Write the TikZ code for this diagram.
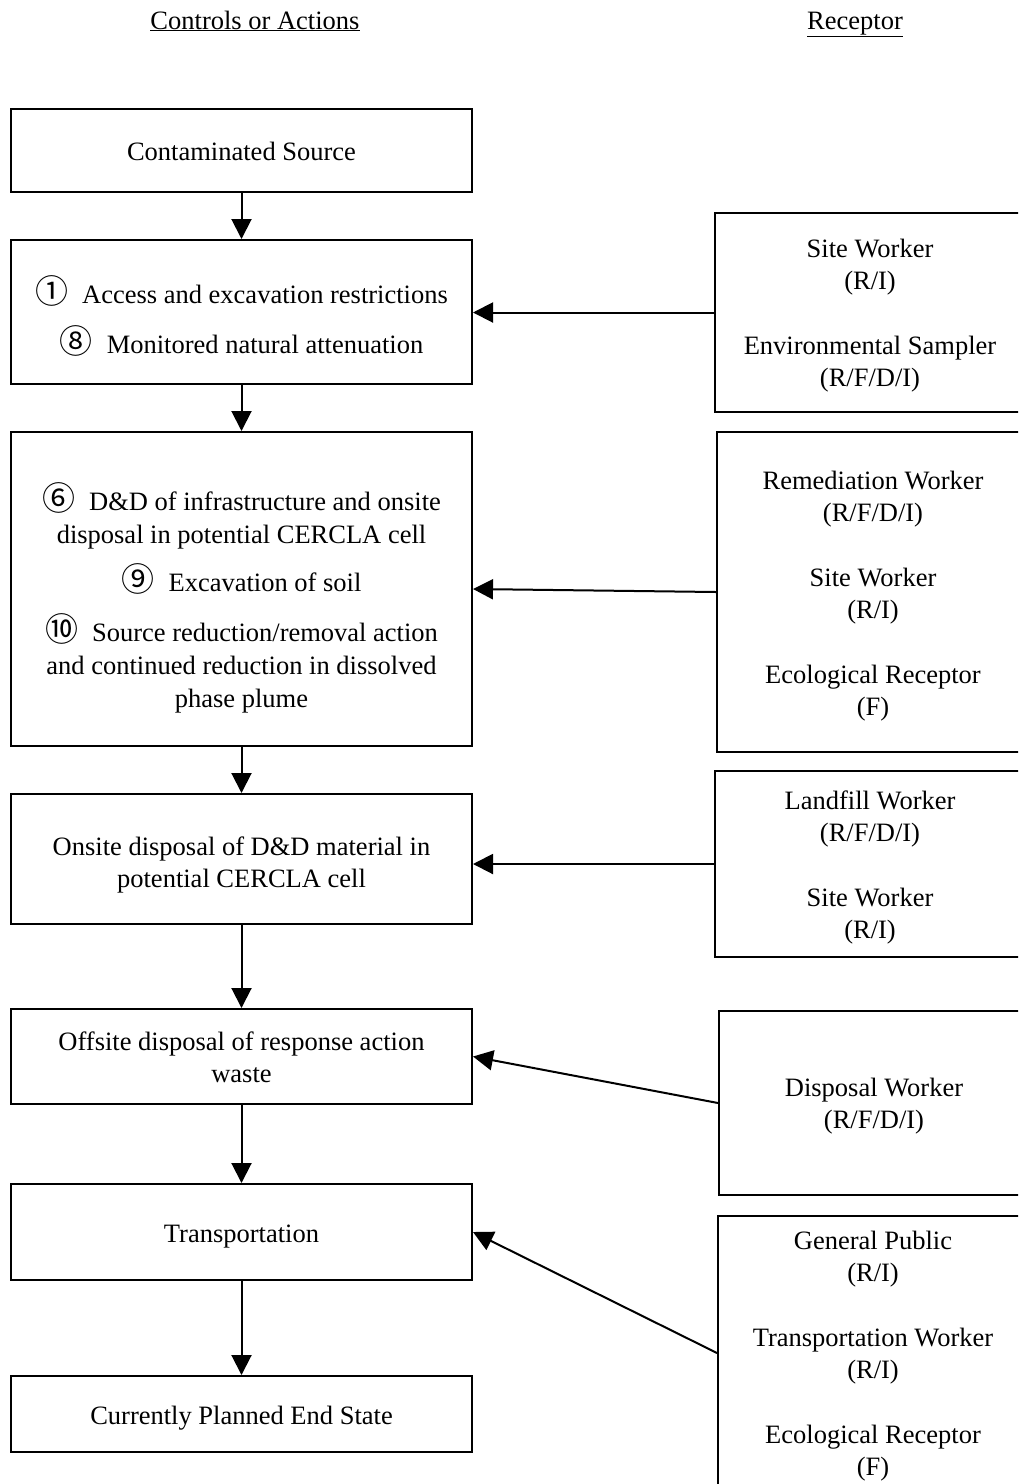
\documentclass[tikz,border=0pt]{standalone}
\usepackage{fontspec}
\setmainfont{Liberation Serif}
\newfontfamily\cnfont{Noto Sans CJK SC}
\newcommand\cn[1]{{\cnfont\fontsize{33}{32}\selectfont #1}\hspace{14pt}}
\usetikzlibrary{arrows.meta}
\begin{document}
\begin{tikzpicture}[x=1pt,y=-1pt,
  font=\fontsize{26.5}{32}\selectfont,
  box/.style={draw,line width=2pt,inner sep=0pt,anchor=north west},
  txt/.style={inner sep=0pt,align=center},
  arr/.style={line width=2pt,-{Triangle[length=20pt,width=20pt]}},
  hdr/.style={inner sep=0pt,anchor=base}]
\useasboundingbox (0,0) rectangle (1018,1484);
\clip (0,0) rectangle (1018,1484);

% column headings
\node[hdr] (hl) at (255,29) {\underline{Controls or Actions}};
\node[hdr] (hr) at (855,29) {\underline{Receptor}};

% controls / actions column: frames
\node[box,minimum width=461pt,minimum height=83pt]  (b1) at (10,108) {};
\node[box,minimum width=461pt,minimum height=144pt] (b2) at (10,239) {};
\node[box,minimum width=461pt,minimum height=314pt] (b3) at (10,431) {};
\node[box,minimum width=461pt,minimum height=130pt] (b4) at (10,793) {};
\node[box,minimum width=461pt,minimum height=95pt]  (b5) at (10,1008) {};
\node[box,minimum width=461pt,minimum height=96pt]  (b6) at (10,1183) {};
\node[box,minimum width=461pt,minimum height=76pt]  (b7) at (10,1375) {};

% controls / actions column: texts
\node[txt] (b1t) at ([yshift=-1pt]b1.center) {Contaminated Source};
\node[txt] (b2t) at ([yshift=-4pt]b2.center)
  {\cn{①}Access and excavation restrictions\\[18pt]
   \cn{⑧}Monitored natural attenuation};
\node[txt] (b3t) at ([yshift=-9pt]b3.center)
  {\cn{⑥}D\&D of infrastructure and onsite\\[1pt]
   disposal in potential CERCLA cell\\[14pt]
   \cn{⑨}Excavation of soil\\[18pt]
   \cn{⑩}Source reduction/removal action\\[1pt]
   and continued reduction in dissolved\\[1pt]
   phase plume};
\node[txt] (b4t) at ([yshift=-6pt]b4.center) {Onsite disposal of D\&D material in\\potential CERCLA cell};
\node[txt] (b5t) at ([yshift=-1pt]b5.center) {Offsite disposal of response action\\waste};
\node[txt] (b6t) at ([yshift=-5pt]b6.center) {Transportation};
\node[txt] (b7t) at ([yshift=-4pt]b7.center) {Currently Planned End State};

% receptor column: frames
\node[box,minimum width=310pt,minimum height=199pt] (r1) at (714,212) {};
\node[box,minimum width=312pt,minimum height=320pt] (r2) at (716,431) {};
\node[box,minimum width=310pt,minimum height=186pt] (r3) at (714,770) {};
\node[box,minimum width=310pt,minimum height=184pt] (r4) at (718,1010) {};
\node[box,minimum width=310pt,minimum height=274pt] (r5) at (717,1215) {};

% receptor column: texts
\node[txt] (r1t) at ([yshift=-3pt]r1.center)
  {Site Worker\\(R/I)\\[33pt]Environmental Sampler\\(R/F/D/I)};
\node[txt] (r2t) at ([yshift=-4pt]r2.center)
  {Remediation Worker\\(R/F/D/I)\\[33pt]Site Worker\\(R/I)\\[33pt]Ecological Receptor\\(F)};
\node[txt] (r3t) at ([yshift=-3pt]r3.center)
  {Landfill Worker\\(R/F/D/I)\\[33pt]Site Worker\\(R/I)};
\node[txt] (r4t) at ([yshift=-3pt]r4.center) {Disposal Worker\\(R/F/D/I)};
\node[txt] (r5t) at ([yshift=-3pt]r5.center)
  {General Public\\(R/I)\\[33pt]Transportation Worker\\(R/I)\\[33pt]Ecological Receptor\\(F)};

% flow down the controls column
\draw[arr] (b1.south) -- (b2.north);
\draw[arr] (b2.south) -- (b3.north);
\draw[arr] (b3.south) -- (b4.north);
\draw[arr] (b4.south) -- (b5.north);
\draw[arr] (b5.south) -- (b6.north);
\draw[arr] (b6.south) -- (b7.north);

% receptors to controls
\draw[arr] (r1.west) -- (r1.west -| b2.east);
\draw[arr] (r2.west) -- (b3.east);
\draw[arr] (r3.west) -- (r3.west -| b4.east);
\draw[arr] (r4.west) -- (b5.east);
\draw[arr] (r5.west) -- (b6.east);
\end{tikzpicture}
\end{document}
